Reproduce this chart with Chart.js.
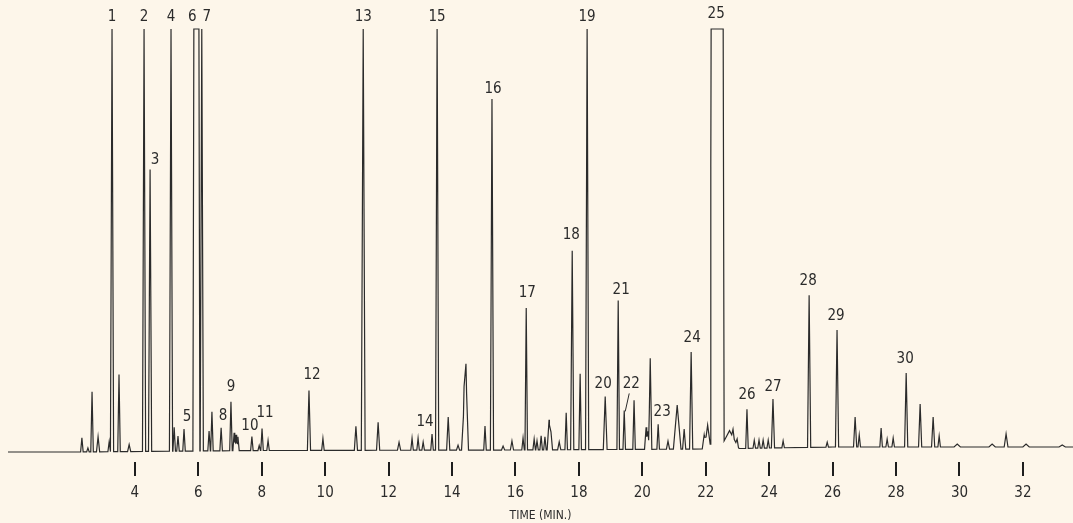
<!DOCTYPE html>
<html>
<head>
<meta charset="utf-8">
<script src="https://cdn.jsdelivr.net/npm/chart.js@4/dist/chart.umd.min.js"></script>
<style>
  html, body { margin: 0; padding: 0; background: #fdf6ea; }
  canvas { display: block; }
</style>
</head>
<body>
<canvas id="chromChart" width="1073" height="523"></canvas>
<script>
// Peak table (time in min, height in detector units, half base width in min)
const peakTimes = [
  2.33, 2.52, 2.65, 2.84, 3.19, 3.28, 3.50, 3.82, 4.29, 4.48,
  5.14, 5.24, 5.36, 5.55, 5.94, 6.11, 6.34, 6.43, 6.72, 7.03,
  7.13, 7.19, 7.25, 7.69, 7.92, 8.01, 8.20, 9.49, 9.93, 10.97,
  11.20, 11.67, 12.33, 12.74, 12.93, 13.09, 13.37, 13.53, 13.88, 14.19,
  14.38, 14.44, 15.04, 15.26, 15.61, 15.89, 16.24, 16.34, 16.59, 16.68,
  16.81, 16.93, 17.06, 17.12, 17.38, 17.60, 17.79, 18.04, 18.26, 18.83,
  19.24, 19.43, 19.74, 20.12, 20.18, 20.25, 20.50, 20.81, 21.10, 21.32,
  21.54, 21.95, 22.06, 22.36, 22.75, 22.86, 22.99, 23.30, 23.53, 23.68,
  23.81, 23.97, 24.12, 24.44, 25.26, 25.83, 26.14, 26.71, 26.84, 27.53,
  27.72, 27.91, 28.32, 28.76, 29.17, 29.36, 29.93, 31.03, 31.47, 32.10,
  33.24
];
const peakHeights = [
  14, 4, 60, 15, 10, 423, 77, 7, 423, 282,
  423, 24, 15, 22, 423, 423, 20, 39, 23, 49,
  18, 16, 14, 14, 5, 22, 10, 60, 12, 24,
  423, 28, 8, 12, 12, 8, 16, 423, 33, 5,
  45, 75, 24, 351, 4, 9, 12, 142, 11, 9,
  14, 13, 30, 18, 8, 37, 199, 76, 423, 53,
  149, 39, 49, 22, 18, 91, 25, 8, 44, 20,
  97, 14, 24, 423, 18, 8, 6, 39, 8, 8,
  8, 8, 49, 7, 152, 5, 117, 30, 12, 19,
  8, 9, 74, 43, 30, 11, 3, 3, 13, 3,
  2
];
const peakWidths = [
  .04, .04, .04, .05, .04, .05, .04, .05, .05, .05,
  .05, .04, .04, .04, .03, .05, .04, .04, .04, .04,
  .04, .04, .04, .04, .04, .04, .04, .05, .04, .05,
  .06, .05, .05, .04, .04, .04, .04, .05, .05, .05,
  .08, .08, .04, .05, .05, .05, .04, .04, .04, .04,
  .04, .04, .06, .05, .05, .04, .05, .04, .05, .06,
  .04, .04, .04, .05, .04, .05, .04, .05, .12, .05,
  .05, .06, .10, .03, .30, .04, .04, .04, .04, .04,
  .04, .04, .05, .04, .05, .04, .05, .05, .04, .04,
  .04, .04, .05, .05, .05, .04, .10, .10, .06, .10,
  .10
];

// off-scale peaks with a flat (clipped) top: time and half width of the flat part
const flatTimes = [5.94, 22.36];
const flatHalfWidths = [0.08, 0.19];

// slow baseline drift
const baseTimes = [0, 2, 8, 16, 22, 26, 33.58];
const baseValues = [0, 0, 1.5, 2, 3, 5, 5];

const fullScale = 423;
const timeMax = 33.58;
const tickValues = [4, 6, 8, 10, 12, 14, 16, 18, 20, 22, 24, 26, 28, 30, 32];

// numbered peaks
const labelNames = ['1','2','3','4','5','6','7','8','9','10','11','12','13','14','15',
  '16','17','18','19','20','21','22','23','24','25','26','27','28','29','30'];
const labelTimes = [3.28, 4.29, 4.48, 5.14, 5.55, 5.94, 6.11, 6.72, 7.03, 7.69, 8.01, 9.49, 11.20, 13.37, 13.53,
  15.26, 16.34, 17.79, 18.26, 18.83, 19.24, 19.43, 20.50, 21.54, 22.36, 23.30, 24.12, 25.26, 26.14, 28.32];

const FONT = '"Liberation Sans Narrow", "DejaVu Sans Condensed", "Roboto", sans-serif';
const INK = '#2b2b2b';

// label nudges in px (layout only)
const labelNudge = {
  '3': [5, 3], '5': [3, 0], '6': [-4, 0], '7': [5, 0], '8': [2, 0], '9': [0, -3],
  '10': [-2, 2], '11': [3, -3], '12': [3, -3], '14': [-7, 0], '16': [1, 2], '17': [1, -3],
  '18': [-1, -4], '20': [-2, 0], '21': [3, 2], '22': [7, -14], '23': [4, 0], '24': [1, -2],
  '25': [-1, -3], '26': [0, -2], '28': [-1, -2], '29': [-1, -2], '30': [-1, -2]
};

function flatOf(t) {
  const i = flatTimes.indexOf(t);
  return i >= 0 ? flatHalfWidths[i] : 0;
}

function baselineAt(x) {
  for (let i = 1; i < baseTimes.length; i++) {
    if (x <= baseTimes[i]) {
      const f = (x - baseTimes[i - 1]) / (baseTimes[i] - baseTimes[i - 1]);
      return baseValues[i - 1] + f * (baseValues[i] - baseValues[i - 1]);
    }
  }
  return baseValues[baseValues.length - 1];
}

function peakAt(i, x) {
  const top = flatOf(peakTimes[i]);
  const d = Math.abs(x - peakTimes[i]) - top;
  if (d <= 0) return peakHeights[i];
  if (d >= peakWidths[i]) return 0;
  return peakHeights[i] * (1 - d / peakWidths[i]);
}

// the trace is the sum of the peaks on the baseline, evaluated at the peaks' corners
function buildTrace() {
  const xs = new Set([0, timeMax, ...baseTimes]);
  peakTimes.forEach((t, i) => {
    const top = flatOf(t);
    const w = peakWidths[i];
    [t - top - w, t - top, t + top, t + top + w].forEach(v => xs.add(+v.toFixed(4)));
  });
  return [...xs].filter(x => x >= 0 && x <= timeMax).sort((a, b) => a - b).map(x => {
    let y = baselineAt(x);
    for (let i = 0; i < peakTimes.length; i++) y += peakAt(i, x);
    return { x: x, y: Math.min(y, fullScale) };
  });
}

const peakLabels = {
  id: 'peakLabels',
  afterDatasetsDraw(chart) {
    const { ctx, scales: { x, y } } = chart;
    ctx.save();
    ctx.fillStyle = INK;
    ctx.strokeStyle = INK;
    ctx.font = '15px ' + FONT;
    ctx.textAlign = 'center';
    ctx.textBaseline = 'middle';
    labelNames.forEach((name, i) => {
      const t = labelTimes[i];
      const k = peakTimes.indexOf(t);
      const h = Math.min(peakHeights[k] + baselineAt(t), fullScale);
      const px = x.getPixelForValue(t);
      const py = y.getPixelForValue(h);
      const n = labelNudge[name] || [0, 0];
      const lx = px + n[0];
      const ly = py - 12 + n[1];
      ctx.fillText(name, lx, ly);
      if (name === '22') {
        ctx.lineWidth = 1;
        ctx.beginPath();
        ctx.moveTo(lx - 2, ly + 9);
        ctx.lineTo(px + 1, py + 1);
        ctx.stroke();
      }
    });
    ctx.restore();
  }
};

const ctx = document.getElementById('chromChart').getContext('2d');
new Chart(ctx, {
  type: 'line',
  data: {
    datasets: [{
      data: buildTrace(),
      borderColor: INK,
      borderWidth: 1.2,
      pointRadius: 0,
      tension: 0,
      fill: false
    }]
  },
  options: {
    responsive: false,
    animation: false,
    layout: { padding: { left: 8, right: 0, top: 0, bottom: 0 } },
    plugins: { legend: { display: false }, tooltip: { enabled: false } },
    scales: {
      x: {
        type: 'linear',
        min: 0,
        max: timeMax,
        afterBuildTicks: s => { s.ticks = tickValues.map(v => ({ value: v })); },
        afterFit: s => { s.height = 61; },
        border: { display: false },
        grid: { drawOnChartArea: false, drawTicks: true, tickLength: 14, color: '#1e1e1e', lineWidth: 2 },
        ticks: { autoSkip: false, maxRotation: 0, padding: 8, color: INK, font: { family: FONT, size: 15 } },
        title: { display: true, text: 'TIME (MIN.)', color: INK, font: { family: FONT, size: 12 }, padding: { top: 7, bottom: 0 } }
      },
      y: { display: false, min: -10, max: 452 }
    }
  },
  plugins: [peakLabels]
});
</script>
</body>
</html>
